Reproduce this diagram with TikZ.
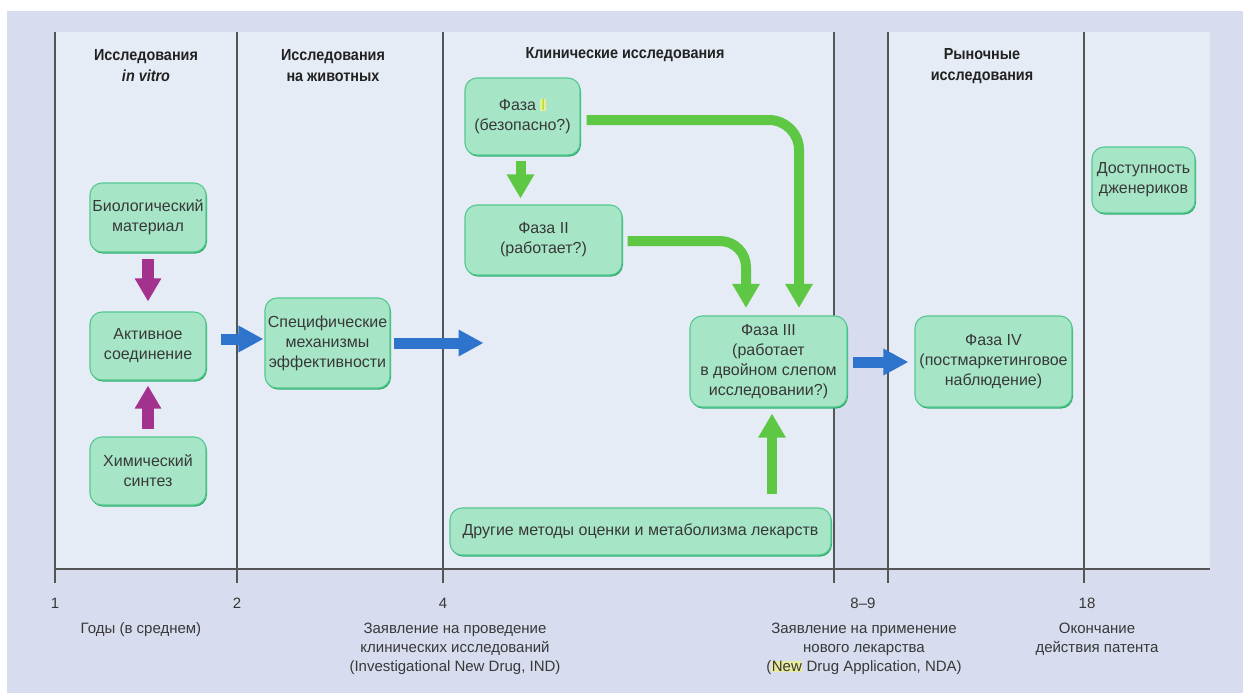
\documentclass[tikz,border=0pt]{standalone}
\usepackage{fontspec}
\setmainfont{Liberation Sans}
\newfontfamily\hdrfont{Liberation Sans}[FakeStretch=0.9]
\usetikzlibrary{arrows.meta,shadows,calc}
\definecolor{outerbg}{HTML}{D7DDEE}
\definecolor{panelbg}{HTML}{E5ECF5}
\definecolor{gridc}{HTML}{555555}
\definecolor{boxfill}{HTML}{A6E6C7}
\definecolor{boxdraw}{HTML}{55C890}
\definecolor{boxshadow}{HTML}{2DAE6C}
\definecolor{txt}{HTML}{383838}
\definecolor{hdrtxt}{HTML}{222222}
\definecolor{garr}{HTML}{5EC744}
\definecolor{parr}{HTML}{A3318E}
\definecolor{barr}{HTML}{2F74CC}
\definecolor{hlyellow}{HTML}{E8EC9C}
\newcommand\hlt[1]{{\setlength\fboxsep{0.6pt}\colorbox{hlyellow}{#1}}}
\tikzset{
  box/.style={draw=boxdraw, line width=1.1pt, fill=boxfill, rounded corners=12pt,
    align=center, text=txt, inner sep=2pt,
    font=\fontsize{16}{20}\selectfont,
    drop shadow={shadow xshift=1pt, shadow yshift=-1.6pt, fill=boxshadow, opacity=1}},
  garrow/.style={draw=garr, line width=10pt, -{Triangle[width=26pt,length=24pt]}},
  parrow/.style={draw=parr, line width=12pt, -{Triangle[width=25pt,length=23pt]}},
  barrow/.style={draw=barr, line width=11pt, -{Triangle[width=25pt,length=25pt]}},
  hdr/.style={align=center, text=hdrtxt, font=\hdrfont\bfseries\fontsize{16}{21}\selectfont},
  axlbl/.style={align=center, text=txt, font=\fontsize{15}{19}\selectfont},
  gridline/.style={draw=gridc, line width=1.4pt}
}
\begin{document}
\begin{tikzpicture}[x=1pt,y=-1pt]
\useasboundingbox (0,0) rectangle (1243,693);
% backgrounds
\fill[outerbg] (7,11) rectangle (1243,693);
\fill[panelbg] (55,32) rectangle (1210,568);
\fill[outerbg] (834,32) rectangle (888,568);
% grid
\foreach \gx in {55,237,443,834,888,1084}{
  \draw[gridline] (\gx,32) -- (\gx,583);
}
\draw[gridline] (55,569) -- (1210,569);
% headers
\node[hdr] (h1) at (146,66) {Исследования\\\textit{in vitro}};
\node[hdr] (h2) at (333,66) {Исследования\\на животных};
\node[hdr] (h3) at (625,55) {Клинические исследования};
\node[hdr] (h4) at (982,66) {Рыночные\\исследования};
% boxes
\node[box, minimum width=116pt, minimum height=69pt] (bio) at (148,217.5) {Биологический\\материал};
\node[box, minimum width=116pt, minimum height=68pt] (act) at (148,346) {Активное\\соединение};
\node[box, minimum width=116pt, minimum height=68pt] (chem) at (148,471) {Химический\\синтез};
\node[box, minimum width=125pt, minimum height=90pt] (spec) at (327.5,343) {Специфические\\механизмы\\эффективности};
\node[box, minimum width=115pt, minimum height=77pt] (p1) at (522.5,116.5) {Фаза \hlt{\textcolor{garr!50!yellow}{I}}\\(безопасно?)};
\node[box, minimum width=157pt, minimum height=70pt] (p2) at (543.5,240) {Фаза II\\(работает?)};
\node[box, minimum width=157pt, minimum height=91pt] (p3) at (768.5,361.5) {Фаза III\\(работает\\в двойном слепом\\исследовании?)};
\node[box, minimum width=157pt, minimum height=91pt] (p4) at (993.5,361.5) {Фаза IV\\(постмаркетинговое\\наблюдение)};
\node[box, minimum width=103pt, minimum height=66pt] (gen) at (1143.5,180) {Доступность\\дженериков};
\node[box, minimum width=381pt, minimum height=47pt] (other) at (640.5,531.5) {Другие методы оценки и метаболизма лекарств};
% connector coordinates
\coordinate (p3in1) at ($(p3.north)+(30.5,-7.5)$);
\coordinate (p3in2) at ($(p3.north)+(-22.5,-7.5)$);
\coordinate (clin) at ($(spec.east)+(93,0)$);
% purple arrows
\draw[parrow] ($(bio.south)+(0,6)$) -- ($(act.north)+(0,-10)$);
\draw[parrow] ($(chem.north)+(0,-7)$) -- ($(act.south)+(0,5)$);
% blue arrows
\draw[barrow] ($(act.east)+(14,-7)$) -- ($(spec.west)+(-1,-4)$);
\draw[barrow] ($(spec.east)+(3,0)$) -- (clin);
\draw[barrow] ($(p3.east)+(5,0.5)$) -- ($(p4.west)+(-6,0.5)$);
% green arrows
\draw[garrow] ($(p1.south)+(-2,5)$) -- ($(p2.north -| p1.south)+(-2,-6)$);
\draw[garrow, rounded corners=30pt] ($(p1.east)+(6,3.5)$) -| (p3in1);
\draw[garrow, rounded corners=26pt] ($(p2.east)+(5,1)$) -| (p3in2);
\draw[garrow] ($(other.north -| p3.south)+(3.5,-13)$) -- ($(p3.south)+(3.5,6)$);
% axis labels
\node[axlbl] (t1) at (55,603) {1};
\node[axlbl] (t2) at (237,603) {2};
\node[axlbl] (t4) at (443,603) {4};
\node[axlbl] (t89) at (863,603) {8--9};
\node[axlbl] (t18) at (1087,603) {18};
\node[axlbl] (l1) at (141,630) {Годы (в среднем)};
\node[axlbl] (l2) at (455,649) {Заявление на проведение\\клинических исследований\\(Investigational New Drug, IND)};
\node[axlbl] (l3) at (864,649) {Заявление на применение\\нового лекарства\\(\hlt{New} Drug Application, NDA)};
\node[axlbl] (l4) at (1097,639.5) {Окончание\\действия патента};
\end{tikzpicture}
\end{document}
